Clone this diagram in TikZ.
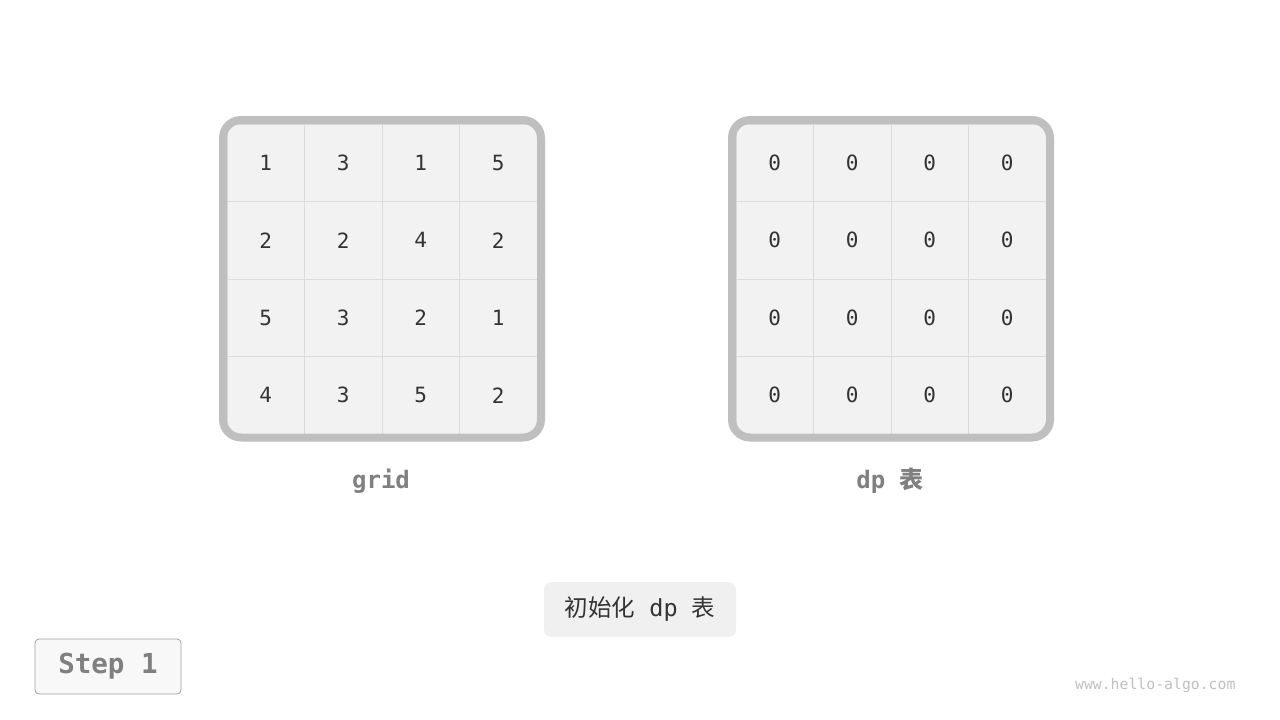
\documentclass[tikz,border=0pt]{standalone}
\usepackage{fontspec}
\setmainfont{DejaVu Sans}
\setmonofont{DejaVu Sans Mono}
\newfontfamily\cjk{Noto Sans CJK SC}
\usetikzlibrary{positioning}

\definecolor{cellfill}{HTML}{F2F2F2}
\definecolor{cellline}{HTML}{DCDCDC}
\definecolor{frameline}{HTML}{BFBFBF}
\definecolor{numtext}{HTML}{333333}
\definecolor{labeltext}{HTML}{808080}
\definecolor{capfill}{HTML}{F0F0F0}
\definecolor{stepfill}{HTML}{F8F8F8}
\definecolor{stepline}{HTML}{A0A0A0}
\definecolor{marktext}{HTML}{C0C0C0}

\tikzset{
  cellbox/.style={draw=cellline, line width=1pt, fill=cellfill, minimum size=77.5pt,
    inner sep=0pt, text=numtext, font=\ttfamily\fontsize{21}{21}\selectfont},
  framebox/.style={draw=frameline, line width=8pt, rounded corners=18pt},
  tablelabel/.style={text=labeltext, font=\ttfamily\bfseries\fontsize{24}{24}\selectfont},
}

\begin{document}
\begin{tikzpicture}[x=1pt,y=-1pt]
		\useasboundingbox[fill=white] (0,0) rectangle (1280,720);
		% grid
		\fill[cellfill, rounded corners=18pt] (223,120) rectangle (541,437.5);
		\foreach \row [count=\i from 0] in {{1,3,1,5},{2,2,4,2},{5,3,2,1},{4,3,5,2}}
		  \foreach \v [count=\j from 0] in \row
		    \node[cellbox] (g-\i-\j) at (265.75+77.5*\j,162.75+77.5*\i) {\v};
		\draw[framebox] (223,120) rectangle (541,437.5);
		\node[tablelabel] (glabel) at (381,481) {grid};
		% dp table
		\fill[cellfill, rounded corners=18pt] (732,120) rectangle (1050,437.5);
		\foreach \i in {0,...,3}
		  \foreach \j in {0,...,3}
		    \node[cellbox] (d-\i-\j) at (774.75+77.5*\j,162.75+77.5*\i) {0};
		\draw[framebox] (732,120) rectangle (1050,437.5);
		\node[tablelabel] (dlabel) at (890,481) {dp {\cjk 表}};
		% caption
		\node[fill=capfill, rounded corners=8pt, minimum width=192pt, minimum height=55pt,
		  text=numtext, font=\ttfamily\fontsize{23.5}{23.5}\selectfont] (caption) at (640,609.5) {{\cjk 初始化} dp {\cjk 表}};
		\node[draw=stepline, line width=0.8pt, fill=stepfill, rounded corners=4pt,
		  minimum width=146pt, minimum height=55pt, text=labeltext,
		  font=\ttfamily\bfseries\fontsize{27.5}{27.5}\selectfont] (step) at (108,666.5) {Step 1};
		\node[text=marktext, font=\ttfamily\fontsize{14.8}{14.8}\selectfont, anchor=east] (mark) at (1239,685) {www.hello-algo.com};
		\end{tikzpicture}
\end{document}
